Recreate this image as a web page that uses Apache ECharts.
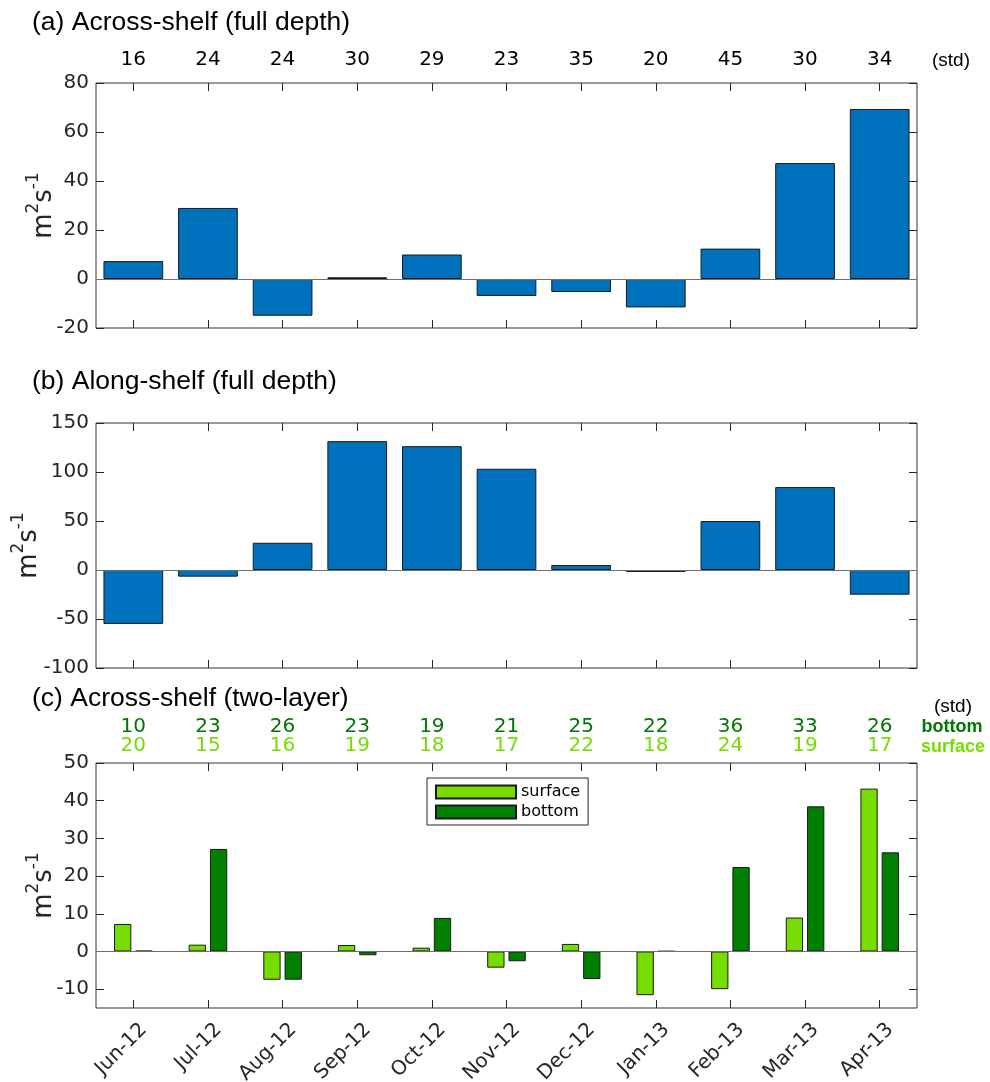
<!DOCTYPE html>
<html>
<head>
<meta charset="utf-8">
<script src="https://cdn.jsdelivr.net/npm/echarts@6/dist/echarts.min.js"></script>
<style>
  html, body { margin: 0; padding: 0; background: #ffffff; }
  #chart { width: 990px; height: 1082px; }
</style>
</head>
<body>
<div id="chart"></div>
<script>
// Monthly transport anomalies (m^2 s^-1), June 2012 – April 2013
const months = ['Jun-12', 'Jul-12', 'Aug-12', 'Sep-12', 'Oct-12', 'Nov-12',
                'Dec-12', 'Jan-13', 'Feb-13', 'Mar-13', 'Apr-13'];

// (a) across-shelf, full depth
const acrossFull = [7.3, 29.0, -15.0, 0.7, 10.0, -6.9, -5.3, -11.6, 12.4, 47.3, 69.4];
const acrossFullStd = [16, 24, 24, 30, 29, 23, 35, 20, 45, 30, 34];

// (b) along-shelf, full depth
const alongFull = [-55.0, -6.8, 27.8, 131.5, 126.4, 103.3, 5.1, -2.0, 50.0, 84.6, -25.2];

// (c) across-shelf, two-layer
const surfaceLayer = [7.3, 1.8, -7.5, 1.7, 1.0, -4.3, 2.0, -11.6, -10.0, 9.0, 43.2];
const bottomLayer = [0.2, 27.2, -7.5, -1.0, 8.9, -2.6, -7.3, 0.1, 22.4, 38.5, 26.3];
const stdBottom = [10, 23, 26, 23, 19, 21, 25, 22, 36, 33, 26];
const stdSurface = [20, 15, 16, 19, 18, 17, 22, 18, 24, 19, 17];

// y-axis ticks
const ticksA = [-20, 0, 20, 40, 60, 80];
const ticksB = [-100, -50, 0, 50, 100, 150];
const ticksC = [-10, 0, 10, 20, 30, 40, 50];

const BLUE = '#0072BD';
const LIME = '#77DD00';
const DARK = '#007F00';
const INK = '#262626';
const TICK_FONT = 'DejaVu Sans';
const TITLE_FONT = 'Liberation Sans, Arial, sans-serif';

const chart = echarts.init(document.getElementById('chart'), null, { renderer: 'canvas' });

const grids = [
  { left: 96, top: 83, width: 821, height: 245 },
  { left: 96, top: 423, width: 821, height: 245 },
  { left: 96, top: 763, width: 821, height: 245 }
];

function boxGrid(g) {
  return Object.assign({ show: true, borderColor: '#333333', borderWidth: 1,
                         backgroundColor: 'transparent', containLabel: false,
                         outerBoundsMode: 'none' }, g);
}

function catAxis(gridIndex, position, extra) {
  return Object.assign({
    type: 'category',
    gridIndex: gridIndex,
    position: position,
    data: months,
    boundaryGap: true,
    axisLine: { show: false, onZero: false },
    axisTick: { show: true, inside: true, length: 8, alignWithLabel: true, interval: 0,
                lineStyle: { color: INK, width: 1 } },
    axisLabel: { show: false },
    splitLine: { show: false }
  }, extra || {});
}

function valAxis(gridIndex, position, min, max, ticks, showLabels, nameGap) {
  const ax = {
    type: 'value',
    gridIndex: gridIndex,
    position: position,
    min: min,
    max: max,
    axisLine: { show: false, onZero: false },
    axisTick: { show: true, inside: true, length: 8, customValues: ticks,
                lineStyle: { color: INK, width: 1 } },
    axisLabel: { show: showLabels, customValues: ticks, margin: 7,
                 fontFamily: TICK_FONT, fontSize: 20, color: INK },
    splitLine: { show: false }
  };
  if (showLabels) {
    ax.name = '{m|m}{sup|2}{m|s}{sup|-1}';
    ax.nameLocation = 'middle';
    ax.nameRotate = 90;
    ax.nameGap = nameGap;
    ax.nameMoveOverlap = false;
    ax.nameTextStyle = {
      fontFamily: TICK_FONT,
      color: INK,
      rich: {
        m: { fontFamily: TICK_FONT, fontSize: 26, color: INK, lineHeight: 32, verticalAlign: 'bottom' },
        sup: { fontFamily: TICK_FONT, fontSize: 17, color: INK, lineHeight: 32, verticalAlign: 'top' }
      }
    };
  }
  return ax;
}

const zeroLine = {
  silent: true,
  symbol: ['none', 'none'],
  label: { show: false },
  lineStyle: { color: '#6e6e6e', width: 1, type: 'solid' },
  data: [{ yAxis: 0 }]
};

const barBorder = { borderColor: '#1a1a1a', borderWidth: 1 };

const option = {
  backgroundColor: '#ffffff',
  animation: false,
  grid: grids.map(boxGrid),
  xAxis: [
    catAxis(0, 'bottom'),
    catAxis(0, 'top', {
      data: acrossFullStd.map(String),
      axisLabel: { show: true, interval: 0, margin: 13, fontFamily: TICK_FONT, fontSize: 20, color: '#000000' }
    }),
    catAxis(1, 'bottom'),
    catAxis(1, 'top'),
    catAxis(2, 'bottom', {
      axisLabel: { show: true, interval: 0, rotate: 45, margin: 8, verticalAlign: 'top',
                   padding: [5, 0, 0, 0],
                   fontFamily: TICK_FONT, fontSize: 20, color: INK }
    }),
    catAxis(2, 'top', {
      axisLabel: {
        show: true, interval: 0, margin: 8,
        formatter: function (v, i) {
          return '{b|' + stdBottom[i] + '}\n{s|' + stdSurface[i] + '}';
        },
        rich: {
          b: { fontFamily: TICK_FONT, fontSize: 20, lineHeight: 19, color: '#007700' },
          s: { fontFamily: TICK_FONT, fontSize: 20, lineHeight: 19, color: LIME }
        }
      }
    })
  ],
  yAxis: [
    valAxis(0, 'left', -20, 80, ticksA, true, 39),
    valAxis(0, 'right', -20, 80, ticksA, false),
    valAxis(1, 'left', -100, 150, ticksB, true, 54),
    valAxis(1, 'right', -100, 150, ticksB, false),
    valAxis(2, 'left', -15, 50, ticksC, true, 39),
    valAxis(2, 'right', -15, 50, ticksC, false)
  ],
  legend: {
    show: true,
    data: ['surface', 'bottom'],
    orient: 'vertical',
    left: 427,
    top: 778,
    itemWidth: 80,
    itemHeight: 13,
    itemGap: 4,
    padding: [6, 8, 5, 8],
    borderColor: '#262626',
    borderWidth: 1,
    backgroundColor: '#ffffff',
    icon: 'rect',
    textStyle: { fontFamily: TICK_FONT, fontSize: 16, lineHeight: 16, color: '#000000' }
  },
  graphic: [
    { type: 'text', left: 32, top: 9,
      style: { text: '(a) Across-shelf (full depth)', font: '26.5px ' + TITLE_FONT, fill: '#000000' } },
    { type: 'text', left: 32, top: 368,
      style: { text: '(b) Along-shelf (full depth)', font: '26.5px ' + TITLE_FONT, fill: '#000000' } },
    { type: 'text', left: 32, top: 685,
      style: { text: '(c) Across-shelf (two-layer)', font: '26.5px ' + TITLE_FONT, fill: '#000000' } },
    { type: 'text', x: 951, y: 61,
      style: { text: '(std)', font: '19px ' + TITLE_FONT, fill: '#000000', align: 'center', verticalAlign: 'middle' } },
    { type: 'text', x: 953, y: 707,
      style: { text: '(std)', font: '19px ' + TITLE_FONT, fill: '#000000', align: 'center', verticalAlign: 'middle' } },
    { type: 'text', x: 952, y: 727,
      style: { text: 'bottom', font: 'bold 18px ' + TITLE_FONT, fill: '#007700', align: 'center', verticalAlign: 'middle' } },
    { type: 'text', x: 953, y: 747,
      style: { text: 'surface', font: 'bold 18px ' + TITLE_FONT, fill: LIME, align: 'center', verticalAlign: 'middle' } }
  ],
  series: [
    {
      name: 'across-full', type: 'bar', xAxisIndex: 0, yAxisIndex: 0,
      data: acrossFull, barWidth: '80%',
      itemStyle: Object.assign({ color: BLUE }, barBorder),
      markLine: zeroLine
    },
    {
      name: 'along-full', type: 'bar', xAxisIndex: 2, yAxisIndex: 2,
      data: alongFull, barWidth: '80%',
      itemStyle: Object.assign({ color: BLUE }, barBorder),
      markLine: zeroLine
    },
    {
      name: 'surface', type: 'bar', xAxisIndex: 4, yAxisIndex: 4,
      data: surfaceLayer, barWidth: 17.3, barGap: '23%',
      itemStyle: Object.assign({ color: LIME }, barBorder),
      markLine: zeroLine
    },
    {
      name: 'bottom', type: 'bar', xAxisIndex: 4, yAxisIndex: 4,
      data: bottomLayer, barWidth: 17.3, barGap: '23%',
      itemStyle: Object.assign({ color: DARK }, barBorder)
    }
  ]
};

chart.setOption(option);
</script>
</body>
</html>
